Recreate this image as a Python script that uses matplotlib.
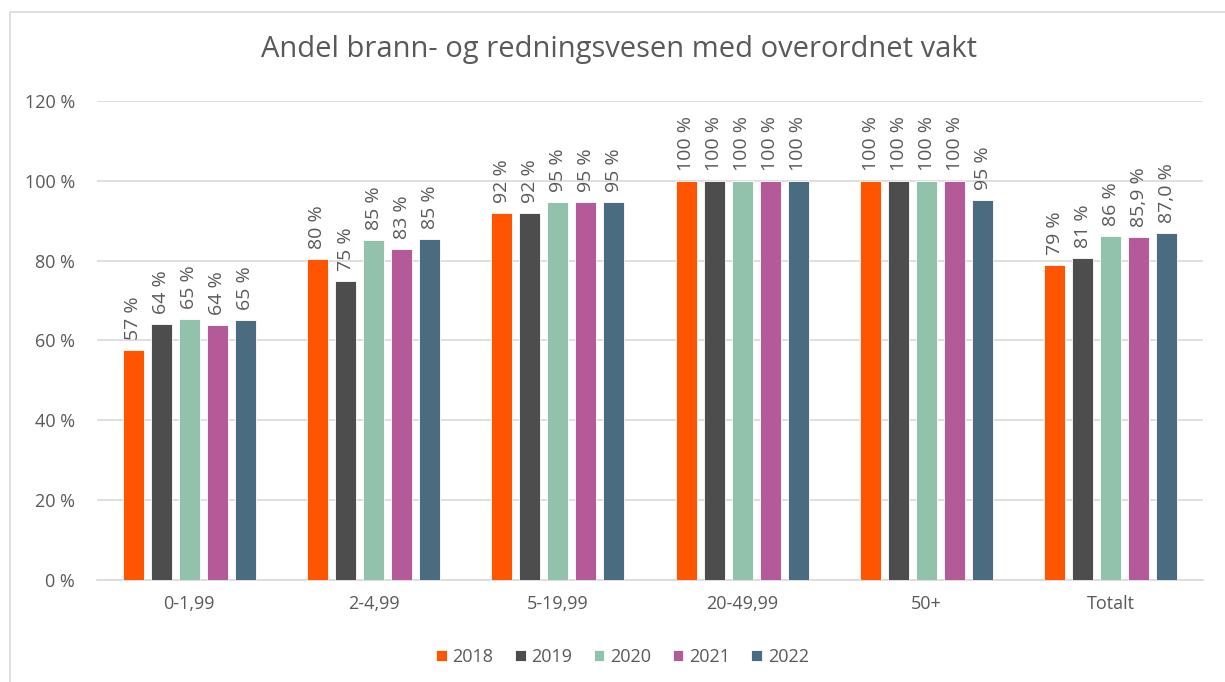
import numpy as np
import matplotlib
matplotlib.use("Agg")
import matplotlib.pyplot as plt
from matplotlib.patches import Rectangle

plt.rcParams['font.family'] = ['Open Sans', 'DejaVu Sans']

categories = ["0-1,99", "2-4,99", "5-19,99", "20-49,99", "50+", "Totalt"]
years = ["2018", "2019", "2020", "2021", "2022"]

# percent values per year, one entry per category
v2018 = [57.5, 80.4, 92.0, 100, 100, 78.9]
v2019 = [64.1, 74.9, 92.0, 100, 100, 80.6]
v2020 = [65.3, 85.3, 94.8, 100, 100, 86.1]
v2021 = [63.9, 83.0, 94.8, 100, 100, 85.9]
v2022 = [65.1, 85.4, 94.7, 100, 95.2, 87.0]

l2018 = ["57 %", "80 %", "92 %", "100 %", "100 %", "79 %"]
l2019 = ["64 %", "75 %", "92 %", "100 %", "100 %", "81 %"]
l2020 = ["65 %", "85 %", "95 %", "100 %", "100 %", "86 %"]
l2021 = ["64 %", "83 %", "95 %", "100 %", "100 %", "85,9 %"]
l2022 = ["65 %", "85 %", "95 %", "100 %", "95 %", "87,0 %"]

values = [v2018, v2019, v2020, v2021, v2022]
labels = [l2018, l2019, l2020, l2021, l2022]
colors = ["#FF5500", "#4D4D4D", "#93C2AC", "#B55A99", "#4A6B80"]

text_col = "#595959"

fig = plt.figure(figsize=(12.25, 6.82), dpi=100)
ax = fig.add_axes([0.0792, 0.1496, 0.9029, 0.7023])

x = np.arange(len(categories))
slot = 0.152
width = 0.114
for i, (vals, labs) in enumerate(zip(values, labels)):
    pos = x + (i - 2) * slot
    bars = ax.bar(pos, vals, width, color=colors[i], edgecolor="white",
                  linewidth=0.6, label=years[i], zorder=3)
    for b, lab in zip(bars, labs):
        ax.text(b.get_x() + b.get_width() / 2, b.get_height() + 2.5, lab,
                rotation=90, ha="center", va="bottom", fontsize=14,
                color=text_col)

ax.set_xlim(-0.5, len(categories) - 0.5)
ax.set_ylim(0, 120)
ax.set_yticks(np.arange(0, 121, 20))
ax.set_yticklabels([f"{t} %" for t in range(0, 121, 20)])
ax.set_xticks(x)
ax.set_xticklabels(categories)
ax.tick_params(axis="both", length=0, labelsize=13, colors=text_col)
ax.tick_params(axis="y", pad=16)
ax.tick_params(axis="x", pad=11)
ax.grid(axis="y", color="#D9D9D9", linewidth=1.2, zorder=0)
for s in ["top", "right", "left"]:
    ax.spines[s].set_visible(False)
ax.spines["bottom"].set_color("#D9D9D9")
ax.spines["bottom"].set_linewidth(1.2)

fig.text(0.505, 0.928, "Andel brann- og redningsvesen med overordnet vakt",
         ha="center", va="center", fontsize=21, color=text_col)

fig.legend(loc="center", bbox_to_anchor=(0.508, 0.037), ncol=5, frameon=False,
           fontsize=13, handlelength=0.6, handleheight=0.6, handletextpad=0.3,
           columnspacing=1.2, labelcolor=text_col)

# chart frame
fig.patches.append(Rectangle((10 / 1225, -0.1), 1.2, 1.1 - 12 / 682,
                             transform=fig.transFigure, fill=False,
                             edgecolor="#D9D9D9", linewidth=1.2))

fig.savefig("out.png", dpi=100)
